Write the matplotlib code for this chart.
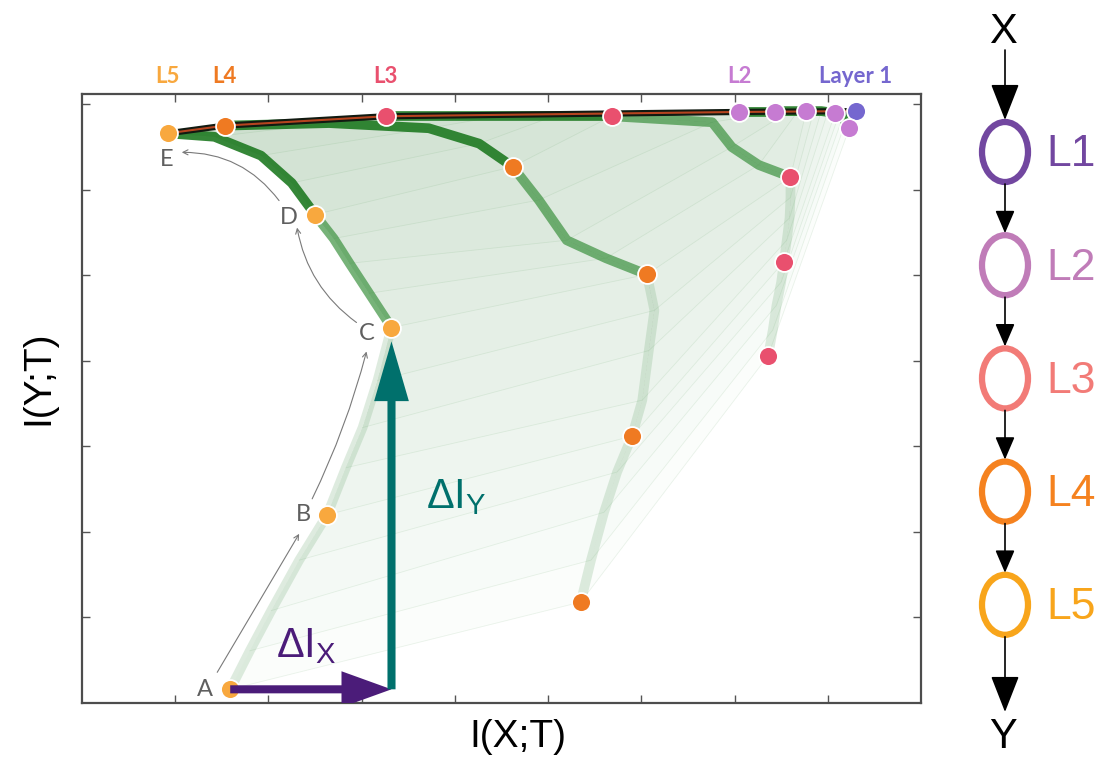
import numpy as np
import matplotlib
matplotlib.use("Agg")
import matplotlib.pyplot as plt
from matplotlib.patches import FancyArrowPatch, Ellipse, Polygon, ArrowStyle
from matplotlib.transforms import offset_copy

plt.rcParams['font.family'] = ['Liberation Sans', 'DejaVu Sans']
plt.rcParams['mathtext.fontset'] = 'custom'
plt.rcParams['mathtext.rm'] = 'Liberation Sans'

# Information-plane coordinates (I(X;T), I(Y;T)) of each layer, one entry per saved epoch
l5_ixt = [1.59, 1.80, 2.03, 2.33, 2.63, 2.83, 3.01, 3.17, 3.32, 3.08, 2.87, 2.70, 2.50, 2.25, 1.92, 1.42, 0.92]
l5_iyt = [0.16, 0.61, 1.08, 1.67, 2.20, 2.75, 3.22, 3.77, 4.39, 4.79, 5.14, 5.43, 5.71, 6.08, 6.40, 6.62, 6.66]
l4_ixt = [5.35, 5.46, 5.60, 5.74, 5.90, 6.01, 6.08, 6.14, 6.06, 5.62, 5.20, 4.90, 4.62, 4.26, 3.72, 2.65, 1.53]
l4_iyt = [1.18, 1.67, 2.23, 2.70, 3.12, 3.54, 4.12, 4.59, 5.01, 5.20, 5.41, 5.88, 6.27, 6.54, 6.72, 6.78, 6.75]
l3_ixt = [7.36, 7.41, 7.45, 7.50, 7.53, 7.56, 7.59, 7.60, 7.60, 7.26, 6.97, 6.76, 5.68, 5.06, 4.47, 3.89, 3.26]
l3_iyt = [4.06, 4.36, 4.65, 4.92, 5.16, 5.41, 5.67, 5.91, 6.15, 6.29, 6.50, 6.79, 6.86, 6.86, 6.86, 6.86, 6.86]
l2_ixt = [8.23, 8.19, 8.16, 8.12, 8.08, 8.00, 7.93, 7.85, 7.77, 7.68, 7.59, 7.51, 7.43, 7.33, 7.23, 7.13, 7.05]
l2_iyt = [6.72, 6.79, 6.85, 6.88, 6.90, 6.91, 6.92, 6.92, 6.92, 6.92, 6.92, 6.92, 6.91, 6.91, 6.91, 6.91, 6.91]
l1_ixt = [8.30]
l1_iyt = [6.92]

# Epochs highlighted with dots (phases A..E)
snapshots = [0, 4, 8, 12, 16]
phase_letters = ['A', 'B', 'C', 'D', 'E']

layer_names = ['Layer 1', 'L2', 'L3', 'L4', 'L5']
layer_colors = ['#7567cf', '#c67bd2', '#e9506e', '#ef7a22', '#f8a83e']

diagram_labels = ['L1', 'L2', 'L3', 'L4', 'L5']
diagram_colors = ['#7247a0', '#c07cb8', '#f27b77', '#f5821f', '#f8a51b']

n_epochs = len(l5_ixt)
stack = [
    (np.array(l5_ixt), np.array(l5_iyt)),
    (np.array(l4_ixt), np.array(l4_iyt)),
    (np.array(l3_ixt), np.array(l3_iyt)),
    (np.array(l2_ixt), np.array(l2_iyt)),
    (np.full(n_epochs, l1_ixt[0]), np.full(n_epochs, l1_iyt[0])),
]

fig = plt.figure(figsize=(11.02, 7.60), dpi=100)
fig.patch.set_facecolor('white')
ax = fig.add_axes([82 / 1102, 57 / 760, 839 / 1102, 609 / 760])
ax.set_xlim(0, 9)
ax.set_ylim(0, 7.12)
ax.set_xticks(range(1, 9))
ax.set_yticks(range(1, 8))
ax.tick_params(direction='in', length=6, width=1.0, color='#555555',
               top=True, right=True, labelbottom=False, labelleft=False)
for sp in ax.spines.values():
    sp.set_linewidth(1.6)
    sp.set_color('#4d4d4d')

green = '#3b8f3e'

# Fans between adjacent layers: stacked translucent sheets get denser toward late epochs
for (xa, ya), (xb, yb) in zip(stack[:-1], stack[1:]):
    for k in range(n_epochs - 1):
        px = np.concatenate([xa[k:], xb[k:][::-1]])
        py = np.concatenate([ya[k:], yb[k:][::-1]])
        ax.add_patch(Polygon(np.column_stack([px, py]), closed=True, fc=green,
                             ec='none', alpha=0.014, zorder=1))

# One thin line per epoch linking the layers
for k in range(n_epochs):
    ax.plot([s[0][k] for s in stack], [s[1][k] for s in stack],
            color=green, lw=0.6, alpha=0.10, zorder=2)

# Layer trajectories through training
for x, y in stack[:3]:
    ax.plot(x[:9], y[:9], color='#5c9e62', lw=7, alpha=0.2, solid_capstyle='butt', zorder=3)
    ax.plot(x[8:13], y[8:13], color='#2f8a32', lw=7, alpha=0.65, solid_capstyle='butt', zorder=3)
    ax.plot(x[12:], y[12:], color='#1f7a22', lw=7, alpha=0.9, solid_capstyle='butt', zorder=3)
ax.plot(stack[3][0], stack[3][1], color='#1f7a22', lw=7, alpha=0.9, zorder=3)

# Final epoch
fx = [s[0][-1] for s in stack]
fy = [s[1][-1] for s in stack]
ax.plot(fx, fy, color='#111a11', lw=4.5, zorder=4, solid_capstyle='round')
ax.plot(fx, fy, color='#b5441f', lw=1.5, zorder=4.5)

# Snapshot dots (Layer 1 first so L2 sits on top)
ax.scatter(l1_ixt, l1_iyt, s=185, c=layer_colors[0], edgecolors='white', linewidths=1.3, zorder=6)
for (x, y), c in zip([stack[3], stack[2], stack[1], stack[0]], layer_colors[1:]):
    ax.scatter(x[snapshots], y[snapshots], s=185, c=c, edgecolors='white', linewidths=1.3, zorder=6)

# Layer names above the plot at their final positions
for name, c, (x, y) in zip(layer_names, layer_colors, stack[::-1]):
    ax.text(x[-1], 1.028, name, transform=ax.get_xaxis_transform(), ha='center', va='center',
            color=c, fontsize=16, fontweight='bold', family=['Lato', 'DejaVu Sans'])

# Phase letters around the last layer
l5x, l5y = stack[0]
letter_offsets = [(-18, 0), (-17, 0), (-18, -4), (-19, -2), (-1, -19)]
for i, (letter, off) in enumerate(zip(phase_letters, letter_offsets)):
    k = snapshots[i]
    ax.annotate(letter, (l5x[k], l5y[k]), xytext=off, textcoords='offset points',
                ha='center', va='center', fontsize=17, color='#5f5f5f',
                family=['Lato', 'DejaVu Sans'], zorder=6)


def shifted(dx, dy):
    return offset_copy(ax.transData, fig=fig, x=dx, y=dy, units='dots')


arrow_ends = [((-13, 17), (-28, -19), 0.0),
              ((-15, 16), (-25, -24), 0.05),
              ((-35, 5), (-18, -13), -0.2),
              ((-36, 14), (14, -19), 0.25)]
for i, (t_off, h_off, rad) in enumerate(arrow_ends):
    k0, k1 = snapshots[i], snapshots[i + 1]
    ax.annotate('', xy=(l5x[k1], l5y[k1]), xycoords=shifted(*h_off),
                xytext=(l5x[k0], l5y[k0]), textcoords=shifted(*t_off),
                arrowprops=dict(arrowstyle='->', color='#7a7a7a', lw=0.8,
                                shrinkA=0, shrinkB=0, mutation_scale=9,
                                connectionstyle=f'arc3,rad={rad}'), zorder=5)

# Delta I_X and Delta I_Y between phases A and C
xa0, ya0 = l5x[0], l5y[0]
xc, yc = l5x[8], l5y[8]
purple = '#4b1c79'
teal = '#00706c'
ax.add_patch(FancyArrowPatch((xa0, ya0), (xc, ya0),
                             arrowstyle=ArrowStyle('simple', head_length=36, head_width=26, tail_width=5.8),
                             mutation_scale=1, fc=purple, ec='none', lw=0,
                             shrinkA=0, shrinkB=0, zorder=7))
ax.add_patch(FancyArrowPatch((xc, ya0), (xc, yc),
                             arrowstyle=ArrowStyle('simple', head_length=43, head_width=25, tail_width=5.8),
                             mutation_scale=1, fc=teal, ec='none', lw=0,
                             shrinkA=0, shrinkB=10, zorder=7))
ax.annotate(r'ΔI$_{\mathrm{X}}$', ((xa0 + xc) / 2, ya0), xytext=(-3, 31), textcoords='offset points',
            ha='center', va='center', fontsize=30, color=purple, zorder=7)
ax.annotate(r'ΔI$_{\mathrm{Y}}$', (xc, (ya0 + yc) / 2), xytext=(25, 8), textcoords='offset points',
            ha='left', va='center', fontsize=30, color=teal, zorder=7)

fig.text(518 / 1102, 1 - 737 / 760, 'I(X;T)', ha='center', va='center', fontsize=28)
fig.text(38 / 1102, 1 - 378 / 760, 'I(Y;T)', ha='center', va='center', fontsize=28, rotation=90)

# Network schematic on the right
dax = fig.add_axes([940 / 1102, 0, 162 / 1102, 1])
dax.set_xlim(940, 1102)
dax.set_ylim(760, 0)
dax.axis('off')
cx = 1005
ring_h = 60
centers = [152 + 113.2 * i for i in range(len(diagram_labels))]
for cy, lab, c in zip(centers, diagram_labels, diagram_colors):
    dax.add_patch(Ellipse((cx, cy), 46, ring_h, fill=False, ec=c, lw=4.5))
    dax.text(1046, cy + 3, lab, color=c, fontsize=32, ha='left', va='center')

big = ArrowStyle('-|>', head_length=2.3, head_width=0.9)
small = ArrowStyle('-|>', head_length=1.4, head_width=0.6)
dax.text(1003, 32, 'X', fontsize=30, ha='center', va='center')
dax.text(1003, 737, 'Y', fontsize=30, ha='center', va='center')
segments = [(50, centers[0] - ring_h / 2 - 2, big)]
for a, b in zip(centers[:-1], centers[1:]):
    segments.append((a + ring_h / 2 + 2, b - ring_h / 2 - 2, small))
segments.append((centers[-1] + ring_h / 2 + 2, 712, big))
for y0, y1, st in segments:
    dax.add_patch(FancyArrowPatch((cx, y0), (cx, y1), arrowstyle=st, mutation_scale=10,
                                  color='black', lw=1.2, shrinkA=0, shrinkB=0))

fig.savefig('out.png', dpi=100, facecolor='white')
